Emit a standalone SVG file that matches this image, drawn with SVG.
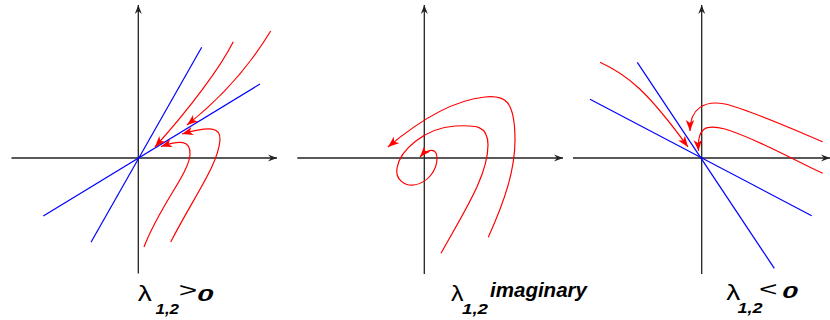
<svg xmlns="http://www.w3.org/2000/svg" width="830" height="320" viewBox="0 0 830 320">
<style>
.ax{stroke:#222;stroke-width:1.3;fill:none;marker-end:url(#axArr)}
.bl{stroke:#0000ff;stroke-width:1.2;fill:none}
.rd{stroke:#ff0000;stroke-width:1.2;fill:none}
.ra{marker-end:url(#redArr)}
.lam{font-family:"Liberation Sans",Arial,sans-serif;font-size:22px;fill:#000}
.sub{font-family:"Liberation Sans",Arial,sans-serif;font-size:15.5px;font-weight:bold;font-style:italic;fill:#000}
.zero{font-family:"Liberation Sans",Arial,sans-serif;font-size:16.5px;font-weight:bold;font-style:italic;fill:#000}
.rel{font-family:"Liberation Sans",Arial,sans-serif;font-size:20.5px;fill:#000}
.big{font-family:"Liberation Sans",Arial,sans-serif;font-size:21px;font-weight:bold;font-style:italic;fill:#000}
</style>
<defs>
<marker id="axArr" markerUnits="userSpaceOnUse" markerWidth="12" markerHeight="10" refX="10" refY="5" orient="auto" viewBox="0 0 12 10">
<path d="M10,5 L1,1.5 L4,5 L1,8.5 z" fill="#222"/>
</marker>
<marker id="redArr" markerUnits="userSpaceOnUse" markerWidth="12" markerHeight="10" refX="11" refY="5" orient="auto" viewBox="0 0 12 10">
<path d="M11,5 L0,0.8 L3,5 L0,9.2 z" fill="#ff0000"/>
</marker>
</defs>
<g id="panel-unstable-node">
<line class="ax" x1="11.5" y1="158" x2="277" y2="158"/>
<line class="ax" x1="138.3" y1="273.5" x2="138.3" y2="5"/>
<line class="bl" x1="201.7" y1="47.3" x2="91" y2="242.3"/>
<line class="bl" x1="260" y1="84" x2="43.3" y2="216"/>
</g>
<g id="panel-spiral">
<line class="ax" x1="297.3" y1="158" x2="563" y2="158"/>
<line class="ax" x1="424.3" y1="274" x2="424.3" y2="5"/>
</g>
<g id="panel-stable-node">
<line class="ax" x1="573" y1="158" x2="830" y2="158"/>
<line class="ax" x1="701.7" y1="274" x2="701.7" y2="5"/>
<line class="bl" x1="637.3" y1="62.3" x2="774.3" y2="268.3"/>
<line class="bl" x1="590" y1="99.3" x2="811.7" y2="215.7"/>
</g>
<g id="connectors">
<path class="rd ra" d="M233.3,41.7 C220,68 190,108 155,147"/>
<path class="rd ra" d="M270.7,31 C250,65 225,95 187,125"/>
<path class="rd ra" d="M170.7,242 C195,195 218,165 220,140 C221,127 210,126 182,134"/>
<path class="rd ra" d="M144,247 C160,205 188,175 190,155 C191,140 180,140 161,146.5"/>
<path class="rd ra" d="M488.3,237.3 C505,200 515,170 515,140 C515,100 505,95 485,97 C455,100 420,120 388,147"/>
<path class="rd ra" d="M441,253.3 C465,210 488,175 488,145 C488,125 475,125 455,126 C425,128 400,150 397,168 C395,180 405,186 414,185 C428,183 437,170 437,158 C437,148 428,148 420,157"/>
<path class="rd ra" d="M600,62.3 C628,75 648,92 688,147"/>
<path class="rd ra" d="M822.7,141.7 C790,128 750,110 725,104 C705,100 690,108 690,131"/>
<path class="rd ra" d="M822.7,173.3 C790,158 755,138 725,129 C705,124 697,128 698.5,151"/>
</g>
<g id="labels">
<text class="lam" x="137.8" y="301" textLength="14" lengthAdjust="spacingAndGlyphs">λ</text>
<text class="sub" x="155.5" y="313.5" textLength="23.5" lengthAdjust="spacingAndGlyphs">1,2</text>
<text class="rel" x="178.8" y="296.7" textLength="18.5" lengthAdjust="spacingAndGlyphs">&gt;</text>
<text class="zero" x="197" y="301" textLength="16.5" lengthAdjust="spacingAndGlyphs">0</text>
<text class="lam" x="451" y="301" textLength="12.5" lengthAdjust="spacingAndGlyphs">λ</text>
<text class="sub" x="462" y="313.5" textLength="26" lengthAdjust="spacingAndGlyphs">1,2</text>
<text class="big" x="490" y="296.7" textLength="97" lengthAdjust="spacingAndGlyphs">imaginary</text>
<text class="lam" x="726.2" y="300" textLength="14" lengthAdjust="spacingAndGlyphs">λ</text>
<text class="sub" x="737.5" y="312.8" textLength="25" lengthAdjust="spacingAndGlyphs">1,2</text>
<text class="rel" x="759" y="296" textLength="18.5" lengthAdjust="spacingAndGlyphs">&lt;</text>
<text class="zero" x="782" y="298" textLength="16" lengthAdjust="spacingAndGlyphs">0</text>
</g>
</svg>
